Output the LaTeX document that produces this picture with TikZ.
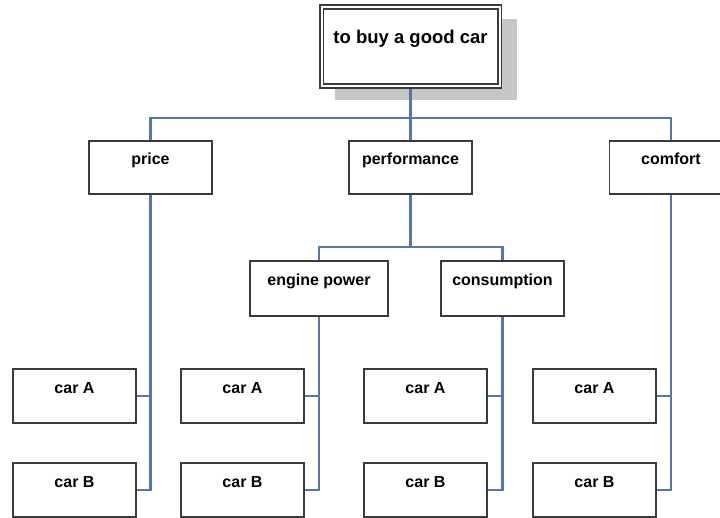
\documentclass[tikz,border=0pt]{standalone}
\usepackage{fontspec}
\setmainfont{Liberation Sans}
\usetikzlibrary{backgrounds}
\definecolor{linkc}{HTML}{5577AA}
\definecolor{boxc}{HTML}{3A3A3A}
\definecolor{shadowc}{HTML}{C6C6C6}
\tikzset{
  box/.style={draw=boxc, line width=1.8pt, fill=white, rectangle,
    inner xsep=0pt, inner ysep=4pt, text height=20pt, text depth=26pt,
    minimum width=123pt, font=\bfseries\fontsize{16}{19}\selectfont},
  secbox/.style={box, text height=19pt, text depth=26pt},
  midbox/.style={box, text height=20pt, text depth=27pt},
  goalbox/.style={draw=boxc, line width=1.6pt, double=white, double distance=2pt,
    fill=white, rectangle, inner xsep=0pt, inner ysep=4pt, text height=32pt,
    text depth=39pt, minimum width=178pt, font=\bfseries\fontsize{18.5}{22}\selectfont},
  link/.style={draw=linkc, line width=2.1pt}
}
\begin{document}
\begin{tikzpicture}[x=1pt,y=-1pt]
\useasboundingbox (0,0) rectangle (720,517);
\clip (0,0) rectangle (720,517);
% nodes
\node[goalbox] (goal) at (410.5,46.5) {to buy a good car};
\node[secbox] (price) at (150.5,167.5) {price};
\node[secbox] (perf) at (410.5,167.5) {performance};
\node[secbox] (comfort) at (671,167.5) {comfort};
\node[midbox, minimum width=138pt] (eng) at (319,288.5) {engine power};
\node[midbox] (cons) at (502.5,288.5) {consumption};
\node[box] (a1) at (74.5,396) {car A};
\node[box] (b1) at (74.5,490) {car B};
\node[box] (a2) at (242.5,396) {car A};
\node[box] (b2) at (242.5,490) {car B};
\node[box] (a3) at (425.5,396) {car A};
\node[box] (b3) at (425.5,490) {car B};
\node[box] (a4) at (594.5,396) {car A};
\node[box] (b4) at (594.5,490) {car B};
\coordinate (j1) at (410.5,118);
\coordinate (j2) at (410.5,247);
\begin{pgfonlayer}{background}
\fill[white] (0,0) rectangle (720,517);
\fill[shadowc] ([xshift=14pt,yshift=-13pt]goal.north west) rectangle ([xshift=17pt,yshift=-13pt]goal.south east);
% connectors
\draw[link] (goal.south) -- (j1);
\draw[link] (price.north) |- (j1) -| (comfort.north);
\draw[link] (j1) -- (perf.north);
\draw[link] (perf.south) -- (j2);
\draw[link] (eng.north) |- (j2) -| (cons.north);
\draw[link] (price.south) |- (a1.east);
\draw[link] (price.south) |- (b1.east);
\draw[link] (eng.south) |- (a2.east);
\draw[link] (eng.south) |- (b2.east);
\draw[link] (cons.south) |- (a3.east);
\draw[link] (cons.south) |- (b3.east);
\draw[link] (comfort.south) |- (a4.east);
\draw[link] (comfort.south) |- (b4.east);
\end{pgfonlayer}
\end{tikzpicture}
\end{document}
